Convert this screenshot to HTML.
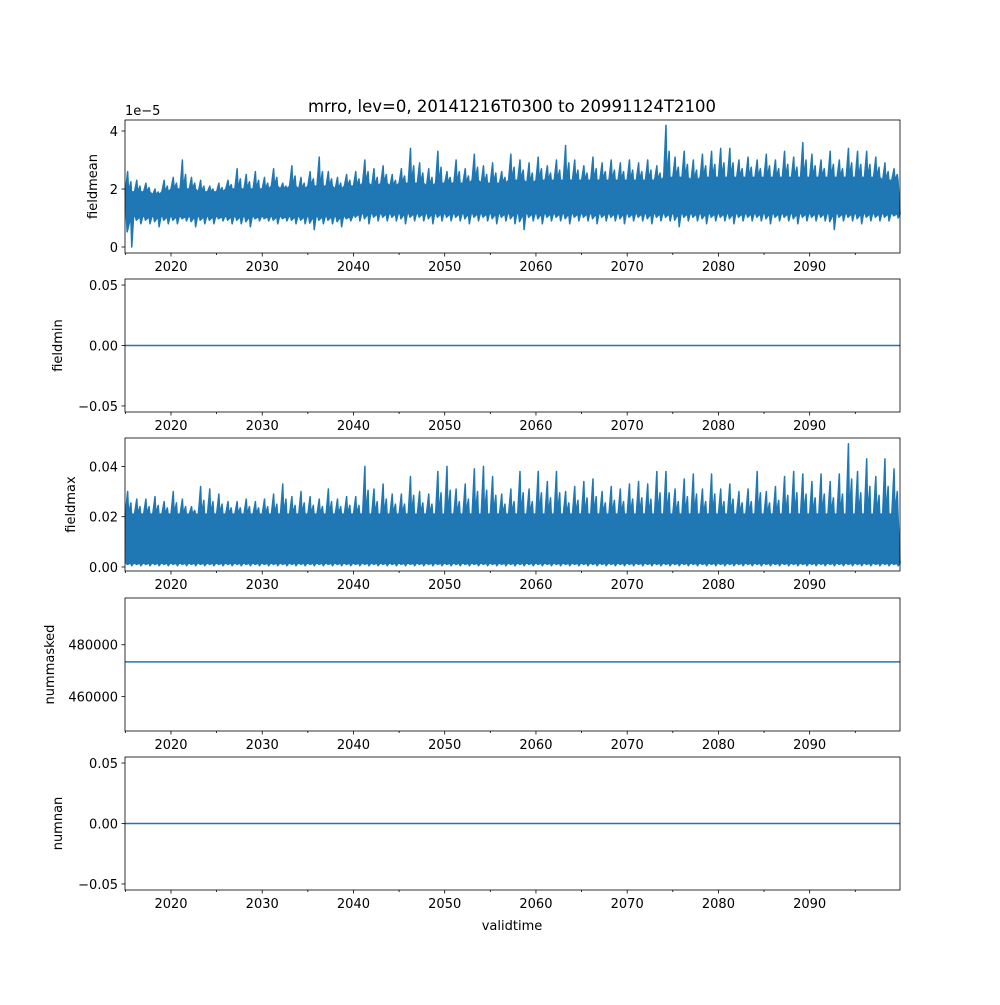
<!DOCTYPE html>
<html><head><meta charset="utf-8"><style>
body{margin:0;background:#fff}
svg text{font-family:"DejaVu Sans","Liberation Sans",sans-serif;font-size:13px;fill:#000}
</style></head><body>
<svg id="fig" width="1000" height="1000" xmlns="http://www.w3.org/2000/svg">
<rect width="1000" height="1000" fill="#fff"/>
<text x="512" y="112" text-anchor="middle" style="font-size:16.5px">mrro, lev=0, 20141216T0300 to 20991124T2100</text>
<text x="512" y="930" text-anchor="middle">validtime</text>
</svg>
<script>
const years=[];for(let y=2015;y<=2099;y++)years.push(y);
const meanHigh=[2.6,2.3,2.2,2.0,2.3,2.4,3.0,2.4,2.3,2.1,2.2,2.3,2.7,2.5,2.6,2.4,2.7,2.2,2.8,2.4,2.6,3.1,2.6,2.4,2.5,2.6,3.0,2.7,2.8,2.5,2.7,3.4,2.9,2.7,3.3,2.6,3.0,2.7,3.2,2.8,2.9,2.6,3.2,3.0,2.9,3.1,2.8,3.0,3.5,3.0,2.8,3.1,2.9,3.0,2.9,3.0,2.9,3.0,2.8,4.2,3.1,3.3,3.0,3.2,3.3,3.4,3.4,3.0,3.1,3.0,3.2,3.0,3.3,3.1,3.6,3.2,3.0,3.3,3.0,3.4,3.3,3.3,3.1,2.9,2.7];
const meanCoreHigh=[1.9,1.9,1.9,1.8,1.9,2.0,2.0,2.0,1.9,1.9,1.9,2.0,2.0,2.0,2.0,2.0,2.1,2.0,2.1,2.0,2.1,2.1,2.1,2.0,2.1,2.1,2.2,2.1,2.2,2.1,2.2,2.2,2.2,2.1,2.2,2.2,2.2,2.2,2.3,2.2,2.2,2.2,2.3,2.3,2.2,2.3,2.3,2.3,2.3,2.3,2.3,2.3,2.3,2.3,2.3,2.3,2.3,2.3,2.3,2.4,2.4,2.4,2.3,2.4,2.4,2.4,2.4,2.4,2.4,2.4,2.4,2.4,2.4,2.4,2.4,2.4,2.4,2.4,2.4,2.4,2.4,2.4,2.4,2.3,2.3];
const meanCoreLow=years.map((y,k)=>y<2040?1.05:1.15);
const meanLow=[0.0,0.8,0.8,0.7,0.8,0.8,0.9,0.7,0.8,0.8,0.9,0.8,0.8,0.7,0.9,0.9,0.8,0.9,0.8,0.8,0.6,0.8,0.8,0.7,0.9,0.9,0.8,0.9,0.9,0.9,0.8,0.9,0.9,0.8,0.9,0.9,0.9,0.8,0.9,0.9,0.8,0.9,0.8,0.6,0.9,0.8,0.9,0.9,0.8,0.9,0.9,0.8,0.9,0.9,0.8,0.9,0.9,0.8,0.9,0.9,0.7,0.9,0.9,0.8,0.9,0.9,0.8,0.9,0.9,0.9,0.8,0.9,0.9,0.8,0.9,0.9,0.9,0.6,0.9,0.9,0.8,0.9,0.9,0.9,1.0];
const maxHigh=[0.030,0.027,0.027,0.028,0.026,0.030,0.027,0.024,0.032,0.031,0.029,0.026,0.026,0.027,0.026,0.027,0.029,0.033,0.028,0.030,0.028,0.027,0.031,0.027,0.028,0.028,0.040,0.031,0.033,0.029,0.029,0.036,0.030,0.029,0.038,0.040,0.031,0.033,0.039,0.040,0.036,0.029,0.031,0.038,0.031,0.038,0.034,0.038,0.030,0.032,0.034,0.035,0.030,0.032,0.031,0.033,0.034,0.033,0.038,0.038,0.031,0.035,0.037,0.031,0.037,0.031,0.033,0.030,0.031,0.038,0.030,0.032,0.036,0.038,0.037,0.034,0.037,0.034,0.037,0.049,0.038,0.043,0.036,0.043,0.039];
const maxCoreHigh=years.map(()=>0.021);
const maxCoreLow=years.map(()=>0.0015);
const maxLow=years.map(()=>0.0005);
const yTicks1=[0,2,4], yTicks2=[-0.05,0,0.05], yTicks3=[0,0.02,0.04], yTicks4=[460000,480000];
const xTicks=[2020,2030,2040,2050,2060,2070,2080,2090];
const constMin=[0], constMasked=[473400], constNan=[0];
const NS="http://www.w3.org/2000/svg", svg=document.getElementById('fig');
const X0=2014.96, X1=2099.9, L=125, R=900;
const sx=v=>L+(Math.min(X1,Math.max(X0,v))-X0)/(X1-X0)*(R-L);
function el(t,a,p){const e=document.createElementNS(NS,t);for(const k in a)e.setAttribute(k,a[k]);(p||svg).appendChild(e);return e;}
const panels=[
 {top:120,bot:253,y0:-0.207,y1:4.38,ticks:yTicks1,fmt:v=>String(v),label:'fieldmean',lx:97},
 {top:279,bot:412,y0:-0.055,y1:0.055,ticks:yTicks2,fmt:v=>v.toFixed(2).replace('-','−'),label:'fieldmin',lx:62},
 {top:438,bot:571,y0:-0.0016,y1:0.0513,ticks:yTicks3,fmt:v=>v.toFixed(2),label:'fieldmax',lx:75},
 {top:598,bot:731,y0:446770,y1:498000,ticks:yTicks4,fmt:v=>String(v),label:'nummasked',lx:54},
 {top:757,bot:890,y0:-0.055,y1:0.055,ticks:yTicks2,fmt:v=>v.toFixed(2).replace('-','−'),label:'numnan',lx:62}];
const names=['fieldmean','fieldmin','fieldmax','nummasked','numnan'];
panels.forEach((p,i)=>{
 const g=el('g',{});
 
 
 const sy=v=>p.bot-(v-p.y0)/(p.y1-p.y0)*(p.bot-p.top);
 const c='#1f77b4';
 if(i===0||i===2){
  const hi=i===0?meanHigh:maxHigh, lo=i===0?meanLow:maxLow;
  const ch=i===0?meanCoreHigh:maxCoreHigh, cl=i===0?meanCoreLow:maxCoreLow;
  let pts=[];
  years.forEach((y,k)=>{
   pts.push(sx(y)+','+sy(ch[k]));
   pts.push(sx(y+0.25)+','+sy(hi[k]));
   pts.push(sx(y+0.35)+','+sy(ch[k]));
   pts.push(sx(y+0.6)+','+sy((ch[k]+hi[k])/2));
   pts.push(sx(y+0.68)+','+sy(ch[k]));
  });
  for(let k=years.length-1;k>=0;k--){const y=years[k];
   pts.push(sx(y+0.9)+','+sy(cl[k]));
   pts.push(sx(y+0.7)+','+sy(lo[k]));
   pts.push(sx(y+0.6)+','+sy(cl[k]));
   pts.push(sx(y+0.2)+','+sy((cl[k]+lo[k])/2));
   pts.push(sx(y+0.1)+','+sy(cl[k]));
  }
  const band=el('polygon',{points:pts.join(' '),fill:c,stroke:c,'stroke-width':1.5,'stroke-linejoin':'round'},g);
  
  
 } else {
  const v=i===1?constMin[0]:i===3?constMasked[0]:constNan[0];
  const ln=el('line',{x1:L,x2:R,y1:sy(v),y2:sy(v),stroke:c,'stroke-width':1.5},g);
  
  
 }
 el('rect',{x:L,y:p.top,width:R-L,height:p.bot-p.top,fill:'none',stroke:'#000','stroke-width':0.8},g);
 p.ticks.forEach(v=>{const y=sy(v);el('line',{x1:L-3.5,x2:L,y1:y,y2:y,stroke:'#000','stroke-width':0.8},g);
  const t=el('text',{x:L-7,y:y+5,'text-anchor':'end'},g);t.textContent=p.fmt(v);
  
  });
 for(let y=2015;y<=2095;y+=5){const x=sx(y);el('line',{x1:x,x2:x,y1:p.bot,y2:p.bot+(y%10===0?3.5:2),stroke:'#000','stroke-width':0.8},g);}
 xTicks.forEach(y=>{const t=el('text',{x:sx(y),y:p.bot+18,'text-anchor':'middle'},g);t.textContent=y;
  
  });
 const cy=(p.top+p.bot)/2, lb=el('text',{x:p.lx,y:cy,'text-anchor':'middle',transform:`rotate(-90 ${p.lx} ${cy})`},g);
 lb.textContent=p.label;
 
 
});
const off=el('text',{x:125,y:115});off.textContent='1e−5';


</script>
</body></html>
